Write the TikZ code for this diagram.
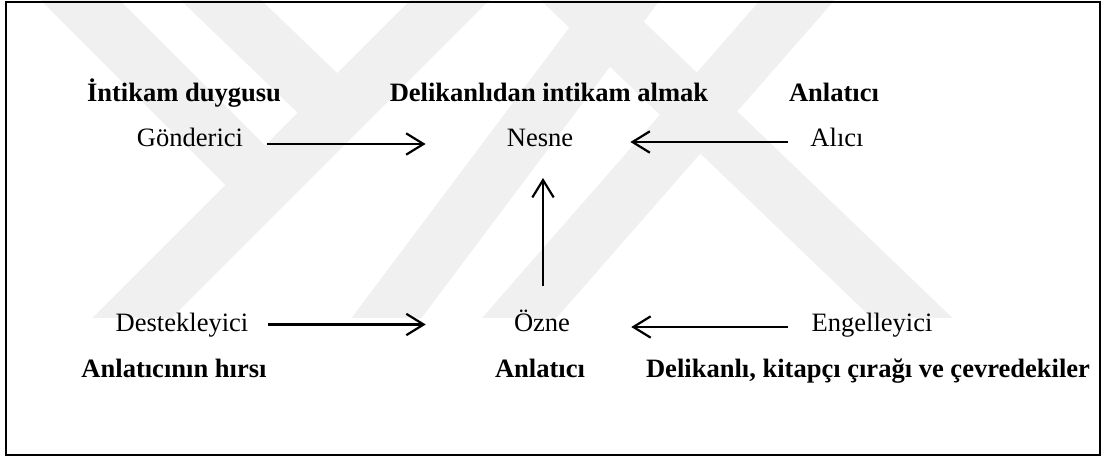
\documentclass[tikz,border=0pt]{standalone}
\usepackage{fontspec}
\setmainfont{Liberation Serif}
\usetikzlibrary{arrows.meta,calc}
\tikzset{
  lbl/.style={anchor=base,inner sep=0pt,font=\fontsize{19.9pt}{24pt}\selectfont},
  blbl/.style={lbl,font=\fontsize{19.9pt}{24pt}\selectfont\bfseries},
  conn/.style={line width=1.65pt,-{Straight Barb[length=13pt,width=16pt,line width=1.65pt]}},
  wm/.style={line width=42pt,color=black!6,line cap=butt}
}
\begin{document}
\begin{tikzpicture}[x=0.75pt,y=-0.75pt]
\useasboundingbox (0,0) rectangle (1106,459);
% watermark
\begin{scope}
\clip (0,0) rectangle (1106,318);
\draw[wm] (60,-20) -- (255,175);
\draw[wm] (200,-20) -- (330,105);
\draw[wm] (470,-20) -- (110,340);
\draw[wm] (640,-20) -- (370,340);
\draw[wm] (815,-20) -- (500,340);
\draw[wm] (560,-20) -- (935,340);
\end{scope}
% frame
\draw[line width=1.8pt] (6,2) rectangle (1100,455);
% nodes
\node[blbl] (t1) at (184,101.5) {İntikam duygusu};
\node[blbl] (t2) at (549,101.5) {Delikanlıdan intikam almak};
\node[blbl] (t3) at (834,101.5) {Anlatıcı};
\node[lbl] (gon) at (190,146.5) {Gönderici};
\node[lbl] (nes) at (540,146.5) {Nesne};
\node[lbl] (ali) at (837,146.5) {Alıcı};
\node[lbl] (des) at (182,332) {Destekleyici};
\node[lbl] (ozn) at (542,332) {Özne};
\node[lbl] (eng) at (872,332) {Engelleyici};
\node[blbl] (b1) at (174,378) {Anlatıcının hırsı};
\node[blbl] (b2) at (540,378) {Anlatıcı};
\node[blbl] (b3) at (868,378) {Delikanlı, kitapçı çırağı ve çevredekiler};
% connectors
\draw[conn] ($(gon.base east)+(24,-2.5)$) -- ($(nes.base west)+(-81,-2.5)$);
\draw[conn] ($(ali.base west)+(-22.5,-4.5)$) -- ($(nes.base east)+(57,-4.5)$);
\draw[conn] ($(ozn.base)+(1,-46)$) -- ($(nes.base)+(3,31.5)$);
\draw[conn] ($(des.base east)+(19.7,-7.5)$) -- ($(ozn.base west)+(-88,-7.5)$);
\draw[conn] ($(eng.base west)+(-23.6,-5)$) -- ($(ozn.base east)+(61,-5)$);
\end{tikzpicture}
\end{document}
